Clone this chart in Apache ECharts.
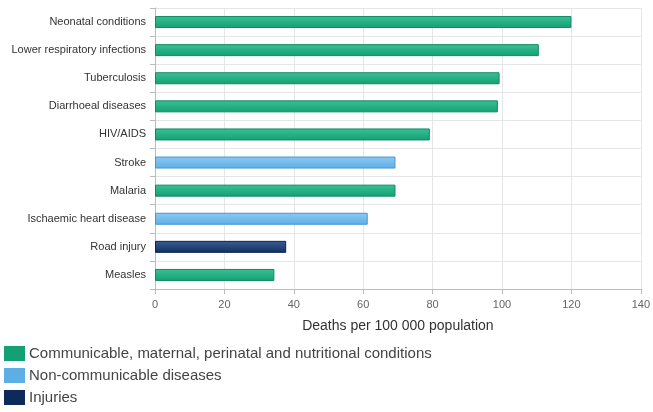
<!DOCTYPE html>
<html>
<head>
<meta charset="utf-8">
<script src="https://cdn.jsdelivr.net/npm/echarts@6/dist/echarts.min.js"></script>
<style>
  html, body { margin: 0; padding: 0; background: #fff; }
  #chart { width: 653px; height: 412px; }
</style>
</head>
<body>
<div id="chart"></div>
<script>
// Causes of death, top ten, deaths per 100 000 population
const causes = [
  'Neonatal conditions', 'Lower respiratory infections', 'Tuberculosis',
  'Diarrhoeal diseases', 'HIV/AIDS', 'Stroke', 'Malaria',
  'Ischaemic heart disease', 'Road injury', 'Measles'
];
const deathRates = [120, 110.6, 99.3, 98.8, 79.2, 69.3, 69.3, 61.3, 37.8, 34.4];
const causeGroups = ['C', 'C', 'C', 'C', 'C', 'N', 'C', 'N', 'I', 'C'];
const groupNames = {
  C: 'Communicable, maternal, perinatal and nutritional conditions',
  N: 'Non-communicable diseases',
  I: 'Injuries'
};
const xTicks = [0, 20, 40, 60, 80, 100, 120, 140];

const groupStyle = {
  C: { top: '#3cc096', bottom: '#13a072', border: '#0f8a62', legend: '#13a072' },
  N: { top: '#8ccaf2', bottom: '#5eaee6', border: '#4a96d0', legend: '#5eaee6' },
  I: { top: '#3a5f93', bottom: '#102f5e', border: '#0b2550', legend: '#0d2b5a' }
};

function gradient(g) {
  const s = groupStyle[g];
  return new echarts.graphic.LinearGradient(0, 0, 0, 1, [
    { offset: 0, color: s.top },
    { offset: 1, color: s.bottom }
  ]);
}

// one series per group, stacked so every bar sits on its own row
const series = ['C', 'N', 'I'].map(g => ({
  name: groupNames[g],
  type: 'bar',
  stack: 'all',
  barWidth: 12,
  color: groupStyle[g].legend,
  itemStyle: {
    color: gradient(g),
    borderColor: groupStyle[g].border,
    borderWidth: 1
  },
  data: deathRates.map((v, i) => causeGroups[i] === g ? v : '-')
}));

const chart = echarts.init(document.getElementById('chart'));
chart.setOption({
  animation: false,
  grid: { left: 155, right: 9, top: 8, bottom: 123 },
  legend: {
    orient: 'vertical',
    left: 4,
    top: 346,
    padding: 0,
    itemWidth: 21,
    itemHeight: 15,
    itemGap: 7,
    icon: 'rect',
    textStyle: { fontSize: 15, color: '#444', fontFamily: 'Liberation Sans, Arial, sans-serif', padding: [0, 0, 0, -1] },
    data: ['C', 'N', 'I'].map(g => ({
      name: groupNames[g],
      itemStyle: { color: groupStyle[g].legend, borderWidth: 0 }
    }))
  },
  xAxis: {
    type: 'value',
    min: 0,
    max: 140,
    interval: 20,
    name: 'Deaths per 100 000 population',
    nameLocation: 'middle',
    nameGap: 30,
    nameTextStyle: { fontSize: 14, color: '#333', fontFamily: 'Liberation Sans, Arial, sans-serif' },
    axisLine: { show: true, lineStyle: { color: '#bbb' } },
    axisTick: { show: true, length: 5, lineStyle: { color: '#bbb' } },
    axisLabel: {
      fontSize: 11, color: '#666', margin: 10,
      fontFamily: 'Liberation Sans, Arial, sans-serif',
      formatter: v => xTicks.includes(v) ? String(v) : ''
    },
    splitLine: { show: true, lineStyle: { color: '#e6e6e6' } }
  },
  yAxis: {
    type: 'category',
    inverse: true,
    data: causes,
    axisLine: { show: true, lineStyle: { color: '#bbb' } },
    axisTick: { show: true, length: 5, lineStyle: { color: '#bbb' } },
    axisLabel: { fontSize: 11, color: '#333', margin: 9, fontFamily: 'Liberation Sans, Arial, sans-serif' },
    splitLine: { show: true, lineStyle: { color: '#e6e6e6' } }
  },
  series: series
});
</script>
</body>
</html>
